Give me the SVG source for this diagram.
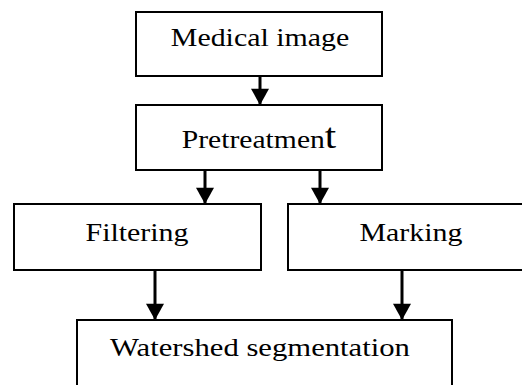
<svg xmlns="http://www.w3.org/2000/svg" width="522" height="385" viewBox="0 0 522 385">
<style>
.box{fill:#fff;stroke:#000;stroke-width:2}
.lbl{font-family:"Liberation Serif","Times New Roman",serif;font-size:26px;fill:#000;text-anchor:middle}
.edge{stroke:#000;stroke-width:3;fill:none}
</style>
<defs>
<marker id="ah" markerUnits="userSpaceOnUse" markerWidth="20" markerHeight="18" refX="18" refY="10" orient="auto" viewBox="0 0 18 20">
<path d="M0,0 L18,10 L0,20 Z" fill="#000"/>
</marker>
</defs>
<rect width="522" height="385" fill="#fff"/>
<g id="connectors">
<line class="edge" x1="260" y1="76" x2="260" y2="105" marker-end="url(#ah)"/>
<line class="edge" x1="205" y1="170" x2="205" y2="204" marker-end="url(#ah)"/>
<line class="edge" x1="320" y1="170" x2="320" y2="204" marker-end="url(#ah)"/>
<line class="edge" x1="155" y1="270" x2="155" y2="320" marker-end="url(#ah)"/>
<line class="edge" x1="402" y1="270" x2="402" y2="320" marker-end="url(#ah)"/>
</g>
<g id="medical-image">
<rect class="box" x="136" y="12" width="246" height="64"/>
<text class="lbl" transform="translate(260,46) scale(1.15,1)">Medical image</text>
</g>
<g id="pretreatment">
<rect class="box" x="136" y="105" width="246" height="65"/>
<text class="lbl" transform="translate(259,148) scale(1.14,1)">Pretreatmen<tspan font-size="36">t</tspan></text>
</g>
<g id="filtering">
<rect class="box" x="14" y="204" width="247" height="66"/>
<text class="lbl" transform="translate(137,241) scale(1.15,1)">Filtering</text>
</g>
<g id="marking">
<rect class="box" x="288" y="204" width="240" height="66"/>
<text class="lbl" transform="translate(411,241) scale(1.15,1)">Marking</text>
</g>
<g id="watershed-segmentation">
<rect class="box" x="77" y="320" width="375" height="72"/>
<text class="lbl" transform="translate(260,356) scale(1.18,1)">Watershed segmentation</text>
</g>
</svg>
